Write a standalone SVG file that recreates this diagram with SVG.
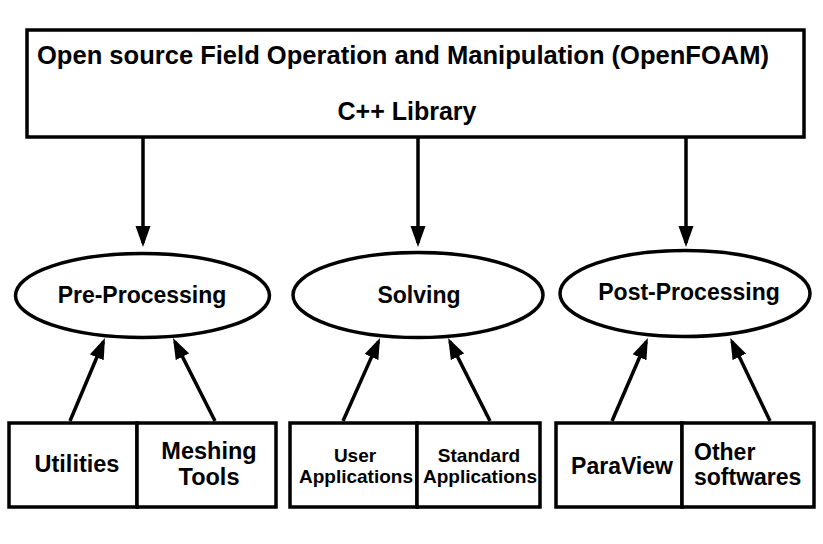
<svg xmlns="http://www.w3.org/2000/svg" width="823" height="544" viewBox="0 0 823 544">
<style>
.box{fill:#fff;stroke:#000;stroke-width:3.5}
.ell{fill:#fff;stroke:#000;stroke-width:3.5}
.t{font-family:"Liberation Sans",Arial,sans-serif;font-weight:bold;fill:#000;text-anchor:middle}
.conn line{stroke:#000;stroke-width:3.5}
</style>
<defs>
<marker id="ah" markerUnits="userSpaceOnUse" markerWidth="22" markerHeight="16" refX="17" refY="8" orient="auto">
<path d="M0,0.5 L21,8 L0,15.5 z" fill="#000"/>
</marker>
</defs>
<rect width="823" height="544" fill="#fff"/>
<g id="openfoam">
<rect class="box" x="27" y="30" width="777" height="107"/>
<text class="t" x="403" y="64" font-size="25" textLength="732" lengthAdjust="spacingAndGlyphs">Open source Field Operation and Manipulation (OpenFOAM)</text>
<text class="t" x="407" y="120" font-size="25">C++ Library</text>
</g>
<g id="pre">
<ellipse class="ell" cx="142.5" cy="295.5" rx="127" ry="42"/>
<text class="t" x="142" y="303" font-size="23">Pre-Processing</text>
</g>
<g id="solving">
<ellipse class="ell" cx="418" cy="295" rx="125" ry="42.5"/>
<text class="t" x="419" y="303" font-size="23">Solving</text>
</g>
<g id="post">
<ellipse class="ell" cx="685" cy="293.5" rx="125" ry="43"/>
<text class="t" x="689" y="300" font-size="23">Post-Processing</text>
</g>
<g id="utilities">
<rect class="box" x="9" y="423" width="128" height="84"/>
<text class="t" x="77" y="472" font-size="23.5">Utilities</text>
</g>
<g id="meshing">
<rect class="box" x="137" y="423" width="139" height="84"/>
<text class="t" x="209" y="459" font-size="23.5">Meshing</text>
<text class="t" x="209" y="485" font-size="23.5">Tools</text>
</g>
<g id="userapps">
<rect class="box" x="290" y="423" width="127" height="84"/>
<text class="t" x="355" y="462" font-size="19">User</text>
<text class="t" x="356" y="483" font-size="19">Applications</text>
</g>
<g id="stdapps">
<rect class="box" x="417" y="423" width="123" height="84"/>
<text class="t" x="479" y="462" font-size="19">Standard</text>
<text class="t" x="480" y="483" font-size="19">Applications</text>
</g>
<g id="paraview">
<rect class="box" x="556" y="423" width="126" height="84"/>
<text class="t" x="622" y="474" font-size="23">ParaView</text>
</g>
<g id="other">
<rect class="box" x="682" y="423" width="132" height="84"/>
<text class="t" x="694" y="460" font-size="23" text-anchor="start" style="text-anchor:start">Other</text>
<text class="t" x="694" y="485" font-size="23" style="text-anchor:start">softwares</text>
</g>
<g id="connectors" class="conn">
<line x1="143" y1="137" x2="143" y2="243" marker-end="url(#ah)"/>
<line x1="418" y1="137" x2="418" y2="243" marker-end="url(#ah)"/>
<line x1="686" y1="137" x2="686" y2="243" marker-end="url(#ah)"/>
<line x1="70" y1="421" x2="103.4" y2="341.7" marker-end="url(#ah)"/>
<line x1="215" y1="421" x2="174.8" y2="341.6" marker-end="url(#ah)"/>
<line x1="343" y1="421" x2="378.4" y2="341.6" marker-end="url(#ah)"/>
<line x1="490" y1="421" x2="449.9" y2="341.6" marker-end="url(#ah)"/>
<line x1="612" y1="421" x2="646.3" y2="341.7" marker-end="url(#ah)"/>
<line x1="770" y1="421" x2="732" y2="341.6" marker-end="url(#ah)"/>
</g>
</svg>
